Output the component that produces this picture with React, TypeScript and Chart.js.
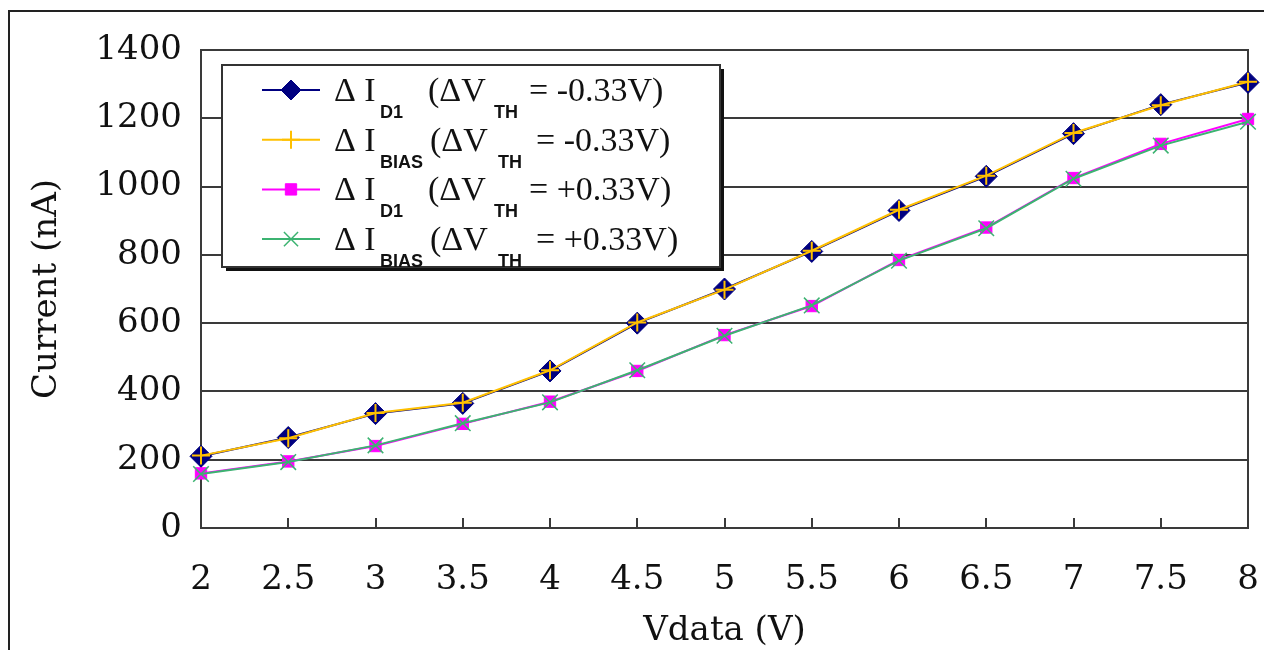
import React, { useEffect, useRef } from 'react';
import { Chart, registerables } from 'chart.js';

Chart.register(...registerables);

// ---- Data ----
const xLabels = ['2', '2.5', '3', '3.5', '4', '4.5', '5', '5.5', '6', '6.5', '7', '7.5', '8'];
const idD1Neg = [210, 265, 335, 365, 460, 600, 700, 810, 930, 1030, 1155, 1240, 1305];
const idBiasNeg = [212, 263, 337, 367, 462, 602, 698, 812, 932, 1032, 1157, 1238, 1307];
const idD1Pos = [160, 195, 240, 305, 370, 460, 565, 650, 785, 880, 1025, 1125, 1198];
const idBiasPos = [158, 193, 242, 307, 368, 462, 563, 652, 783, 878, 1023, 1120, 1190];
const yMin = 0;
const yMax = 1400;
const yStep = 200;
const xTitle = 'Vdata (V)';
const yTitle = 'Current (nA)';

const NAVY = '#000080';
const YELLOW = '#FFC000';
const MAGENTA = '#FF00FF';
const GREEN = '#3CB371';
const AXIS = '#3a3a3a';

const legendRows = [
  { sub: 'D1', sign: '= -0.33V)', color: NAVY, style: 'rectRot', radius: 10, fill: NAVY, bw: 1 },
  { sub: 'BIAS', sign: '= -0.33V)', color: YELLOW, style: 'cross', radius: 9, fill: YELLOW, bw: 2 },
  { sub: 'D1', sign: '= +0.33V)', color: MAGENTA, style: 'rect', radius: 8, fill: MAGENTA, bw: 1 },
  { sub: 'BIAS', sign: '= +0.33V)', color: GREEN, style: 'crossRot', radius: 10, fill: GREEN, bw: 1.5 },
];

function drawMarker(ctx: CanvasRenderingContext2D, style: string, r: number, x: number, y: number, fill: string, stroke: string, bw: number) {
  ctx.save();
  ctx.fillStyle = fill;
  ctx.strokeStyle = stroke;
  ctx.lineWidth = bw;
  ctx.beginPath();
  if (style === 'rectRot') {
    ctx.moveTo(x - r, y);
    ctx.lineTo(x, y - r);
    ctx.lineTo(x + r, y);
    ctx.lineTo(x, y + r);
    ctx.closePath();
    ctx.fill();
    ctx.stroke();
  } else if (style === 'rect') {
    const s = r * Math.SQRT1_2;
    ctx.rect(x - s, y - s, 2 * s, 2 * s);
    ctx.fill();
    ctx.stroke();
  } else if (style === 'cross') {
    ctx.moveTo(x, y - r);
    ctx.lineTo(x, y + r);
    ctx.moveTo(x - r, y);
    ctx.lineTo(x + r, y);
    ctx.stroke();
  } else {
    const s = r * Math.SQRT1_2;
    ctx.moveTo(x - s, y - s);
    ctx.lineTo(x + s, y + s);
    ctx.moveTo(x + s, y - s);
    ctx.lineTo(x - s, y + s);
    ctx.stroke();
  }
  ctx.restore();
}

const decorPlugin = {
  id: 'decor',
  beforeDraw(chart: any) {
    const ctx = chart.ctx;
    ctx.save();
    ctx.fillStyle = '#ffffff';
    ctx.fillRect(0, 0, chart.width, chart.height);
    ctx.strokeStyle = '#222';
    ctx.lineWidth = 2;
    ctx.beginPath();
    ctx.moveTo(9, chart.height);
    ctx.lineTo(9, 11);
    ctx.lineTo(chart.width, 11);
    ctx.stroke();
    ctx.restore();
  },
  beforeDatasetsDraw(chart: any) {
    const ctx = chart.ctx;
    const a = chart.chartArea;
    const xs = chart.scales.x;
    ctx.save();
    ctx.strokeStyle = AXIS;
    ctx.lineWidth = 2;
    ctx.strokeRect(a.left, a.top, a.right - a.left, a.bottom - a.top);
    ctx.beginPath();
    for (let i = 1; i < xLabels.length - 1; i++) {
      const px = Math.round(xs.getPixelForTick(i));
      ctx.moveTo(px, a.bottom);
      ctx.lineTo(px, a.bottom - 10);
    }
    ctx.stroke();
    ctx.restore();
  },
  afterDraw(chart: any) {
    const ctx = chart.ctx;
    const L = 222, T = 65, R = 720, B = 267;
    ctx.save();
    ctx.fillStyle = '#111';
    ctx.fillRect(L + 4, T + 4, R - L, B - T);
    ctx.fillStyle = '#fff';
    ctx.fillRect(L, T, R - L, B - T);
    ctx.strokeStyle = '#333';
    ctx.lineWidth = 2;
    ctx.strokeRect(L, T, R - L, B - T);

    legendRows.forEach((row, i) => {
      const y = 90 + i * 49.7;
      ctx.strokeStyle = row.color;
      ctx.lineWidth = 2;
      ctx.beginPath();
      ctx.moveTo(262, y);
      ctx.lineTo(320, y);
      ctx.stroke();
      drawMarker(ctx, row.style, row.radius, 291, y, row.fill, row.color, row.bw);

      const isBias = row.sub === 'BIAS';
      ctx.fillStyle = '#111';
      ctx.textBaseline = 'alphabetic';
      ctx.font = '34px "Liberation Serif"';
      ctx.fillText('Δ I', 334, y + 11);
      ctx.fillText('(ΔV', isBias ? 430 : 428, y + 11);
      ctx.fillText(row.sign, isBias ? 536 : 529, y + 11);
      ctx.font = 'bold 18px "Liberation Sans"';
      ctx.fillText(row.sub, 380, y + 28);
      ctx.fillText('TH', isBias ? 498 : 494, y + 28);
    });
    ctx.restore();
  },
};

export default function App() {
  const ref = useRef<HTMLCanvasElement | null>(null);

  useEffect(() => {
    if (!ref.current) return;
    const tickFont = { family: '"DejaVu Serif"', size: 34 };
    const chart = new Chart(ref.current, {
      type: 'line',
      data: {
        labels: xLabels,
        datasets: [
          {
            label: 'ΔI D1 (ΔV TH = -0.33V)',
            data: idD1Neg,
            borderColor: NAVY,
            backgroundColor: NAVY,
            pointBackgroundColor: NAVY,
            pointBorderColor: NAVY,
            pointStyle: 'rectRot',
            pointRadius: 11,
            borderWidth: 2,
            pointBorderWidth: 1,
            order: 4,
          },
          {
            label: 'ΔI BIAS (ΔV TH = -0.33V)',
            data: idBiasNeg,
            borderColor: YELLOW,
            backgroundColor: YELLOW,
            pointBorderColor: YELLOW,
            pointStyle: 'cross',
            pointRadius: 9,
            borderWidth: 2,
            pointBorderWidth: 2,
            order: 3,
          },
          {
            label: 'ΔI D1 (ΔV TH = +0.33V)',
            data: idD1Pos,
            borderColor: MAGENTA,
            backgroundColor: MAGENTA,
            pointBackgroundColor: MAGENTA,
            pointBorderColor: MAGENTA,
            pointStyle: 'rect',
            pointRadius: 8,
            borderWidth: 2,
            pointBorderWidth: 1,
            order: 2,
          },
          {
            label: 'ΔI BIAS (ΔV TH = +0.33V)',
            data: idBiasPos,
            borderColor: GREEN,
            backgroundColor: GREEN,
            pointBorderColor: GREEN,
            pointStyle: 'crossRot',
            pointRadius: 11,
            borderWidth: 2,
            pointBorderWidth: 1.5,
            order: 1,
          },
        ],
      },
      options: {
        animation: false,
        responsive: false,
        maintainAspectRatio: false,
        layout: { padding: { top: 50, right: 16, left: 0, bottom: 0 } },
        plugins: {
          legend: { display: false },
          tooltip: { enabled: false },
        },
        elements: { line: { tension: 0 } },
        scales: {
          x: {
            type: 'category',
            offset: false,
            grid: { display: false, drawTicks: false },
            border: { display: true, color: AXIS, width: 2 },
            ticks: { font: tickFont, color: '#111', padding: 32, maxRotation: 0, autoSkip: false },
            title: { display: true, text: xTitle, font: tickFont, color: '#111', padding: { top: 0, bottom: -2 } },
            afterFit: (s: any) => { s.height = 122; s.paddingLeft = 0; s.paddingRight = 0; },
          },
          y: {
            min: yMin,
            max: yMax,
            grid: { color: AXIS, lineWidth: 2, drawTicks: false },
            border: { display: true, color: AXIS, width: 2 },
            ticks: { stepSize: yStep, font: tickFont, color: '#111', padding: 19, callback: (v: any) => String(v) },
            title: { display: true, text: yTitle, font: tickFont, color: '#111', padding: { top: 27, bottom: 0 } },
            afterFit: (s: any) => { s.width = 201; s.paddingTop = 0; s.paddingBottom = 0; },
          },
        },
      },
      plugins: [decorPlugin],
    } as any);
    return () => chart.destroy();
  }, []);

  return (
    <div style={{ position: 'fixed', left: 0, top: 0, width: 1264, height: 650, background: '#fff' }}>
      <canvas ref={ref} width={1264} height={650} style={{ display: 'block' }} />
    </div>
  );
}
